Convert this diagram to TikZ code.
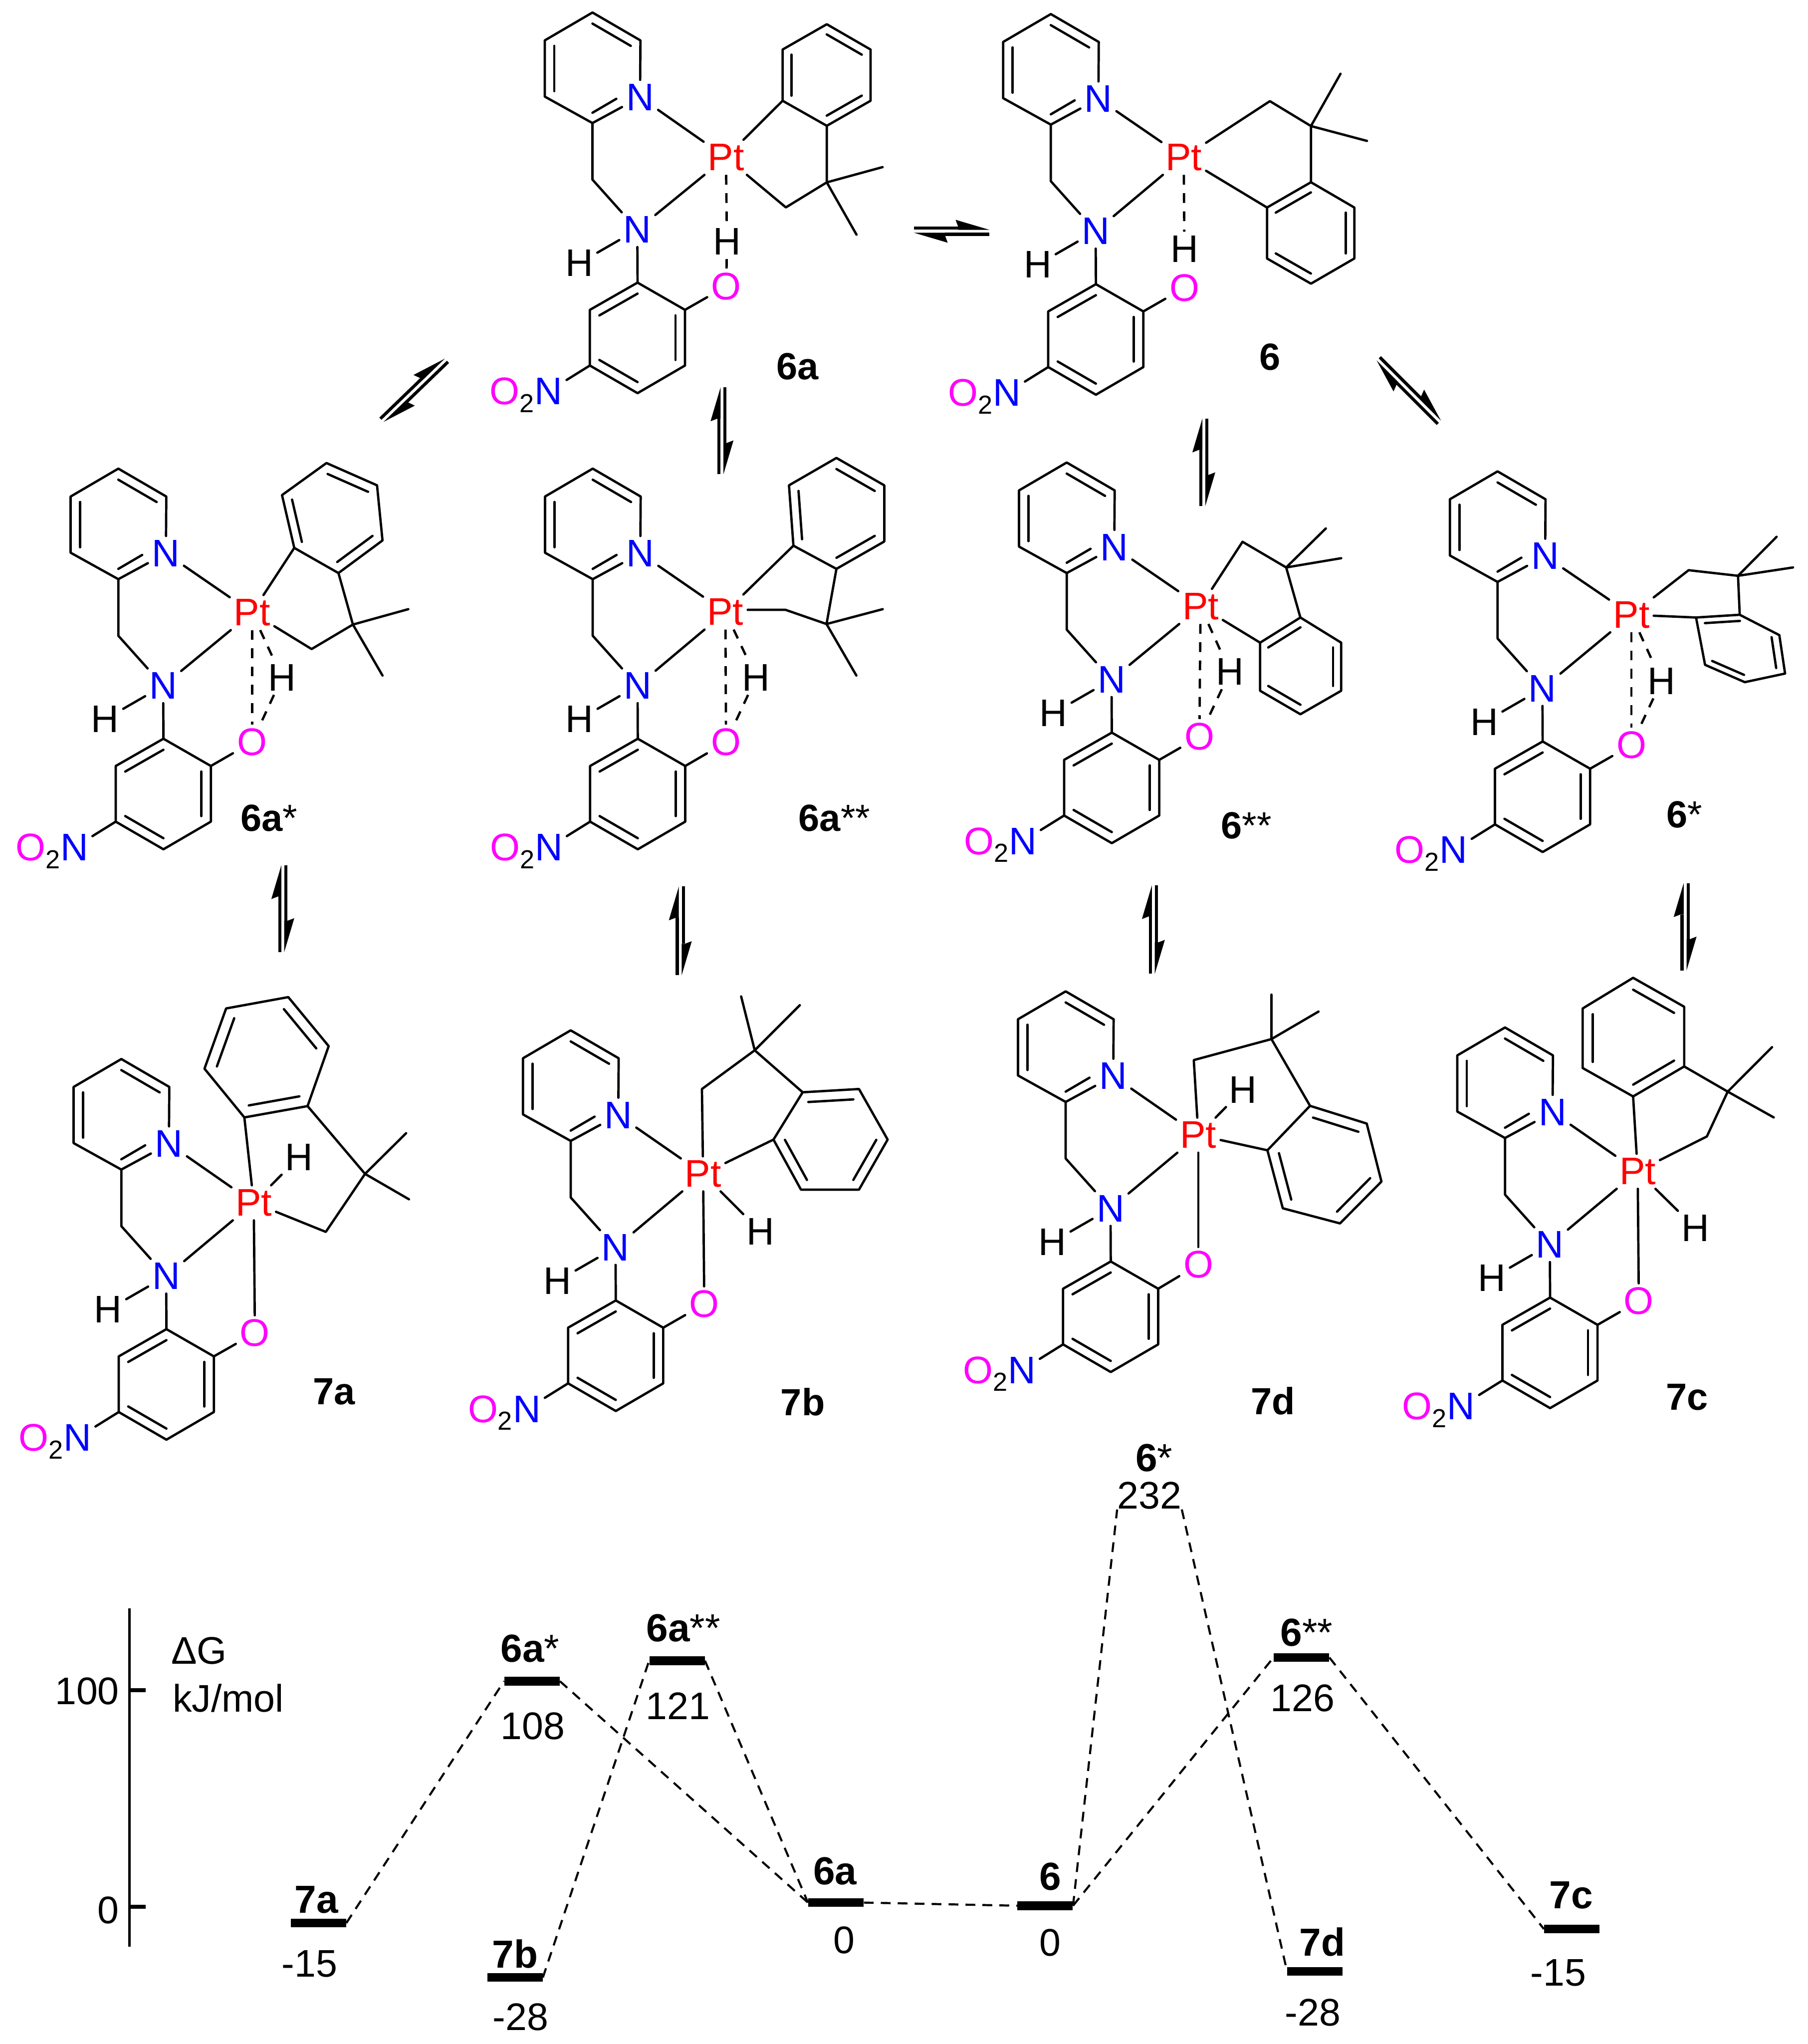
\documentclass[tikz,border=0pt]{standalone}
\usepackage{fontspec}
\setmainfont{Liberation Sans}
\usetikzlibrary{calc}
\definecolor{nblue}{RGB}{0,0,255}
\definecolor{ofuchsia}{RGB}{255,0,255}
\definecolor{ptred}{RGB}{255,0,0}
\tikzset{
  bond/.style={line width=1.8pt,line cap=round,line join=round},
  dbond/.style={bond,line cap=butt,dash pattern=on 7.5pt off 6.5pt},
  atom/.style={inner sep=3pt,font=\fontsize{29.5}{32}\selectfont},
  numlab/.style={inner sep=0pt,font=\fontsize{29.5}{32}\selectfont},
  blab/.style={inner sep=0pt,font=\fontsize{29}{32}\selectfont\bfseries},
  elab/.style={inner sep=0pt,font=\fontsize{30}{32}\selectfont\bfseries},
  bar/.style={fill=black,draw=none,inner sep=0pt,minimum width=42.5pt,minimum height=6.6pt},
  path/.style={line width=1.6pt,dash pattern=on 7.5pt off 5.5pt},
  axis/.style={line width=2pt},
  tick/.style={line width=3pt},
  eqline/.style={line width=2.4pt}
}
% six-membered ring, double bonds 1-2, 3-4, 5-6
\newcommand{\benz}[6]{%
  \coordinate (r1) at #1; \coordinate (r2) at #2; \coordinate (r3) at #3;
  \coordinate (r4) at #4; \coordinate (r5) at #5; \coordinate (r6) at #6;
  \coordinate (rc) at ($(r1)!.5!(r4)$);
  \draw[bond] (r1)--(r2)--(r3)--(r4)--(r5)--(r6)--cycle;
  \draw[bond] ($(r1)!.2!(rc)$)--($(r2)!.2!(rc)$);
  \draw[bond] ($(r3)!.2!(rc)$)--($(r4)!.2!(rc)$);
  \draw[bond] ($(r5)!.2!(rc)$)--($(r6)!.2!(rc)$);
}
% common ligand: prefix, x and y of the top atom of the pyridine
\newcommand{\ligand}[3]{%
  \begin{scope}[shift={(#2,#3)}]
    \node[atom,text=nblue] (#1N1) at (36.5,65) {N};
    \node[atom,text=nblue] (#1N2) at (34.4,166.6) {N};
    \node[atom] (#1H1) at (-10.1,192.2) {H};
    \node[atom,text=nblue] (#1N3) at (-33.7,290.5) {N};
    \node[atom,anchor=base east,inner sep=0pt] (#1O2) at ($(#1N3.base west)+(3,0)$) {\textcolor{ofuchsia}{O}\raisebox{-6pt}{\fontsize{20}{22}\selectfont 2}};
    \draw[bond] (#1N1)--(36.8,21.4)--(0,0)--(-36.6,21.4)--(-36.6,64.5)--(0,84.8)--(#1N1);
    \draw[bond] (0,8.5)--(29.4,25.6);
    \draw[bond] (-29.3,25.6)--(-29.3,60.3);
    \draw[bond] (0,76.9)--(18.3,66.2);
    \draw[bond] (0,84.8)--(0,128.2)--(#1N2);
    \draw[bond] (#1H1)--(#1N2);
    \draw[bond] (#1N2)--(34.6,207.2);
    \benz{(-2,228.1)}{(34.6,207.2)}{(71,228.1)}{(71,270.8)}{(34.6,292)}{(-2,270.8)}
    \draw[bond] (#1N3)--(-2,270.8);
    \coordinate (#1cO) at (71,228.1);
  \end{scope}
}
% metal, oxygen and hydride: prefix, Pt, O, H
\newcommand{\metal}[4]{%
  \node[atom,text=ptred] (#1Pt) at #2 {Pt};
  \node[atom,text=ofuchsia] (#1O) at #3 {O};
  \node[atom] (#1H) at #4 {H};
  \draw[bond] (#1N1)--(#1Pt);
  \draw[bond] (#1N2)--(#1Pt);
  \draw[bond] (#1cO)--(#1O);
}
% equilibrium arrows: x, y, angle, length
\newcommand{\eqarrow}[4]{%
  \pgfmathsetmacro{\halfL}{#4/2}
  \foreach \rr in {0,180}{
    \begin{scope}[shift={(#1,#2)},rotate=#3+\rr]
      \draw[eqline] (-\halfL,-2.35)--(\halfL-24,-2.35);
      \fill (\halfL,-1.1)--(\halfL-26,-8.8)--(\halfL-24,-3.5)--(\halfL-24,-1.1)--cycle;
    \end{scope}
  }
}
\begin{document}
\begin{tikzpicture}[x=1pt,y=-1pt]
\path[use as bounding box,fill=white] (0,0) rectangle (1387,1568);

% ---------- 6a
\ligand{a}{454.6}{9.6}
\metal{a}{(557,120.7)}{(557.3,219.6)}{(557.8,185.4)}
\benz{(600.5,38)}{(600.5,77.3)}{(634.4,96.5)}{(668,77.3)}{(668,38)}{(634.4,18.6)}
\draw[bond] (aPt)--(600.5,77.3);
\draw[bond] (aPt)--(603,159.1)--(634.4,139.9)--(634.4,96.5);
\draw[bond] (677.2,128.2)--(634.4,139.9)--(657.2,180);
\draw[dbond] (aPt)--(aH);
\draw[dbond] (aH)--(aO);
\node[blab] (l6a) at (612,281) {6a};

% ---------- 6
\ligand{b}{806.3}{10.8}
\metal{b}{(908.3,120.7)}{(908.8,220.8)}{(908.8,191.1)}
\benz{(972.2,159.2)}{(1005.9,139.8)}{(1039.2,159.2)}{(1039.2,198.3)}{(1005.9,217.6)}{(972.2,198.3)}
\draw[bond] (bPt)--(972.2,159.2);
\draw[bond] (bPt)--(974.4,77.6)--(1005.9,96.7)--(1005.9,139.8);
\draw[bond] (1028.6,56.6)--(1005.9,96.7)--(1048.9,108.1);
\draw[dbond] (bPt)--(bH);
\node[blab] (l6) at (974.4,273.8) {6};

% ---------- 6a*
\ligand{c}{90.8}{359.5}
\metal{c}{(193.4,469.9)}{(193.4,569.4)}{(216.4,519.7)}
\benz{(216.4,379.8)}{(225.8,420.3)}{(259.7,439.6)}{(293.5,414.6)}{(289.3,372.3)}{(250.5,355.2)}
\draw[bond] (cPt)--(225.8,420.3);
\draw[bond] (cPt)--(239.1,497.9)--(270.8,479.1)--(259.7,439.6);
\draw[bond] (313.3,467.3)--(270.8,479.1)--(293.5,518.2);
\draw[dbond] (cPt)--(cO);
\draw[dbond] (cPt)--(cH);
\draw[dbond] (cH)--(cO);
\node[blab] (l6as) at (206.5,627.5) {6a{\mdseries *}};

% ---------- 6a**
\ligand{d}{454.8}{359.5}
\metal{d}{(556.6,469.5)}{(557.1,569.4)}{(580.2,519.7)}
\benz{(605.4,372.3)}{(608.8,418.6)}{(641.8,436.4)}{(678.5,415.4)}{(678.5,372.3)}{(641.8,351.3)}
\draw[bond] (dPt)--(608.8,418.6);
\coordinate (dCH) at (602.7,467.8);
\draw[bond] (dPt.east|-dCH)--(dCH)--(634.2,478.7)--(641.8,436.4);
\draw[bond] (677.3,467.3)--(634.2,478.7)--(657.1,518.2);
\draw[dbond] (dPt)--(dO);
\draw[dbond] (dPt)--(dH);
\draw[dbond] (dH)--(dO);
\node[blab] (l6ass) at (640.2,627.5) {6a{\mdseries **}};

% ---------- 6**
\ligand{e}{818.5}{354.8}
\metal{e}{(921.2,465.2)}{(920.3,565.2)}{(943.8,515.4)}
\benz{(966.9,493)}{(997.8,473.7)}{(1029.1,493)}{(1029.1,529.9)}{(997.8,547.9)}{(966.9,529.9)}
\draw[bond] (ePt)--(966.9,493);
\draw[bond] (ePt)--(953.4,415.6)--(986.9,435.3)--(997.8,473.7);
\draw[bond] (1017.3,405.4)--(986.9,435.3)--(1029.1,428.2);
\draw[dbond] (ePt)--(eO);
\draw[dbond] (ePt)--(eH);
\draw[dbond] (eH)--(eO);
\node[blab] (l6ss) at (956.4,633.5) {6{\mdseries **}};

% ---------- 6*
\ligand{f}{1149.1}{361.6}
\metal{f}{(1251.8,471.6)}{(1251.8,571.6)}{(1274.9,522.4)}
\benz{(1301.4,473.7)}{(1334.9,471.6)}{(1365.3,487.2)}{(1369.7,516.7)}{(1338.8,523.3)}{(1308.3,510)}
\draw[bond] (fPt)--(1301.4,473.7);
\draw[bond] (fPt)--(1295.7,437.4)--(1333.6,441.7)--(1334.9,471.6);
\draw[bond] (1363.2,411.8)--(1333.6,441.7)--(1375.8,435.3);
\draw[dbond] (fPt)--(fO);
\draw[dbond] (fPt)--(fH);
\draw[dbond] (fH)--(fO);
\node[blab] (l6s) at (1292.3,625) {6{\mdseries *}};

% ---------- 7a
\ligand{g}{93.1}{812.4}
\metal{g}{(194.7,922.7)}{(195.6,1022.6)}{(229.3,887.8)}
\benz{(156.9,819.8)}{(173.5,773.6)}{(221.2,764.9)}{(252.2,802.5)}{(236,848.5)}{(187.5,857.2)}
\draw[bond] (gPt)--(187.5,857.2);
\draw[bond] (gPt)--(250,945)--(280.1,900.5)--(236,848.5);
\draw[bond] (311.6,869.3)--(280.1,900.5)--(313.8,920);
\draw[bond] (gPt)--(gO);
\draw[bond] (gPt)--(gH);
\node[blab] (l7a) at (256.3,1067.4) {7a};

% ---------- 7b
\ligand{h}{437.9}{790.4}
\metal{h}{(539.5,900.5)}{(540.4,1000.4)}{(583.6,944.7)}
\benz{(615.9,837.9)}{(659.1,835.4)}{(681.1,874.2)}{(659.1,912.6)}{(614.6,912.6)}{(593.5,874.2)}
\draw[bond] (hPt)--(593.5,874.2);
\draw[bond] (hPt)--(538.6,835.4)--(579.1,805.7)--(615.9,837.9);
\draw[bond] (568.7,764.4)--(579.1,805.7)--(613.7,771.1);
\draw[bond] (hPt)--(hO);
\draw[bond] (hPt)--(hH);
\node[blab] (l7b) at (616,1075.3) {7b};

% ---------- 7d
\ligand{k}{817.7}{760.5}
\metal{k}{(919.5,870.8)}{(919.5,970.2)}{(953.8,835.9)}
\benz{(1005.2,848.3)}{(1048.7,861.9)}{(1060,906.4)}{(1028.2,938.5)}{(984.3,926.9)}{(972.5,882.4)}
\draw[bond] (kPt)--(972.5,882.4);
\draw[bond] (kPt)--(916,813.2)--(975.6,797.1)--(1005.2,848.3);
\draw[bond] (975.6,763)--(975.6,797.1)--(1011.7,776);
\draw[bond] (kPt)--(kO);
\draw[bond] (kPt)--(kH);
\node[blab] (l7d) at (976.9,1074.6) {7d};

% ---------- 7c
\ligand{m}{1154.8}{788.2}
\metal{m}{(1256.6,898.5)}{(1257.5,998.1)}{(1301,942.2)}
\benz{(1214.4,819.3)}{(1214.4,773.6)}{(1253.1,750.1)}{(1292.3,772.3)}{(1292.3,818.1)}{(1253.1,841.1)}
\draw[bond] (mPt)--(1253.1,841.1);
\draw[bond] (mPt)--(1309.7,871.8)--(1325.7,837.4)--(1292.3,818.1);
\draw[bond] (1359.7,803.3)--(1325.7,837.4)--(1361,857.2);
\draw[bond] (mPt)--(mO);
\draw[bond] (mPt)--(mH);
\node[blab] (l7c) at (1294.4,1071.6) {7c};

% ---------- equilibrium arrows
\eqarrow{730.2}{177.4}{0}{58}
\eqarrow{317.8}{299.4}{44}{67.6}
\eqarrow{1081}{299.6}{-45}{67.6}
\eqarrow{554}{330.5}{90}{66.7}
\eqarrow{923.7}{354.7}{90}{67.3}
\eqarrow{217}{697}{90}{66.7}
\eqarrow{522}{714}{90}{68}
\eqarrow{885}{713}{90}{68}
\eqarrow{1293}{711}{90}{67}

% ---------- energy axis
\coordinate (axT) at (99.2,1233.6);
\coordinate (axB) at (99.2,1493.4);
\draw[axis] (axT)--(axB);
\coordinate (t100) at (99.2,1296.7);
\coordinate (t0) at (99.2,1462.8);
\draw[tick] (t100)--++(12.5,0);
\draw[tick] (t0)--++(12.5,0);
\node[numlab] (n100) at (66.8,1297.3) {100};
\node[numlab] (n0) at (83.2,1465.5) {0};
\node[numlab] (dG) at (152.7,1266.4) {ΔG};
\node[numlab] (kJ) at (175.1,1302.8) {kJ/mol};

% ---------- levels
\node[bar] (b7a) at (244.3,1475.2) {};
\node[bar] (b6as) at (408.2,1289.7) {};
\node[bar] (b7b) at (395.1,1517) {};
\node[bar] (b6ass) at (519.5,1274) {};
\node[bar] (b6a) at (641.4,1459.5) {};
\node[bar] (b6) at (801.9,1461.9) {};
\node[bar] (b6ss) at (998.6,1271.5) {};
\node[bar] (b7d) at (1009,1512.2) {};
\node[bar] (b7c) at (1206.1,1479.8) {};

\node[elab] (e7a) at (242.8,1457.3) {7a};
\node[elab] (e6as) at (406.7,1264.6) {6a{\mdseries *}};
\node[elab] (e7b) at (395.2,1498.9) {7b};
\node[elab] (e6ass) at (524.3,1248.8) {6a{\mdseries **}};
\node[elab] (e6a) at (640.7,1435.2) {6a};
\node[elab] (e6) at (805.9,1439.7) {6};
\node[elab] (e6s) at (885.6,1118.5) {6{\mdseries *}};
\node[elab] (e6ss) at (1002.6,1252.4) {6{\mdseries **}};
\node[elab] (e7d) at (1014.6,1489.8) {7d};
\node[elab] (e7c) at (1205.5,1454) {7c};

\node[numlab] (v7a) at (237.6,1506.4) {-15};
\node[numlab] (v6as) at (408.8,1324) {108};
\node[numlab] (v7b) at (399.4,1547.4) {-28};
\node[numlab] (v6ass) at (520.3,1308.5) {121};
\node[numlab] (v6a) at (647.6,1488.2) {0};
\node[numlab] (v6) at (805.9,1490.4) {0};
\node[numlab] (v6s) at (882,1147.3) {232};
\node[numlab] (v6ss) at (999.6,1302.5) {126};
\node[numlab] (v7d) at (1007.4,1543.7) {-28};
\node[numlab] (v7c) at (1195.6,1513.4) {-15};

\draw[path] (b7a.east)--(b6as.west);
\draw[path] (b6as.east)--(b6a.west);
\draw[path] (b7b.east)--(b6ass.west);
\draw[path] (b6ass.east)--(b6a.west);
\draw[path] (b6a.east)--(b6.west);
\draw[path] (b6.east)--(v6s.south west);
\draw[path] (v6s.south east)--(b7d.west);
\draw[path] (b6.east)--(b6ss.west);
\draw[path] (b6ss.east)--(b7c.west);
\end{tikzpicture}
\end{document}
